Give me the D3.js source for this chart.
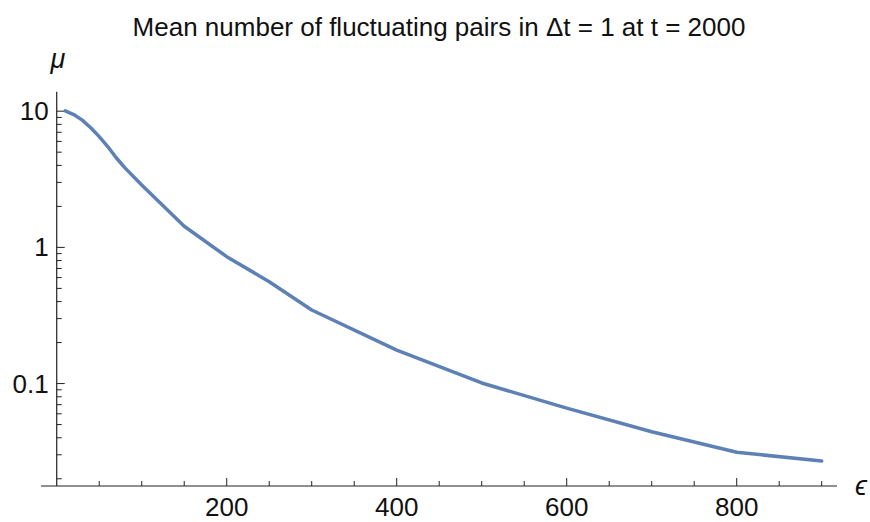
<!DOCTYPE html>
<html>
<head>
<meta charset="utf-8">
<script src="https://cdn.jsdelivr.net/npm/d3@7"></script>
<style>
  html, body { margin: 0; padding: 0; background: #fff; }
  svg { display: block; font-family: "Liberation Sans", Arial, sans-serif; }
</style>
</head>
<body>
<svg id="chart" width="870" height="522"></svg>
<script>
// Mean number of fluctuating pairs versus threshold epsilon
const epsilonValues = [10, 20, 30, 40, 50, 60, 70, 80, 100, 150, 200, 250, 300, 400, 500, 600, 700, 800, 900];
const muValues      = [10.05, 9.45, 8.6, 7.55, 6.5, 5.5, 4.55, 3.85, 2.87, 1.43, 0.855, 0.56, 0.347, 0.176, 0.101, 0.066, 0.0443, 0.0313, 0.027];

const xMajorTicks = [200, 400, 600, 800];
const xMinorTicks = [50, 100, 150, 250, 300, 350, 450, 500, 550, 650, 700, 750, 850, 900];
const yMajorTicks = [0.1, 1, 10];
const yMajorLabels = ["0.1", "1", "10"];
const yMinorTicks = [0.02, 0.03, 0.04, 0.05, 0.06, 0.07, 0.08, 0.09,
                     0.2, 0.3, 0.4, 0.5, 0.6, 0.7, 0.8, 0.9,
                     2, 3, 4, 5, 6, 7, 8, 9];

const titleText = "Mean number of fluctuating pairs in \u0394t = 1 at t = 2000";

const svg = d3.select("#chart");

const x = d3.scaleLinear().domain([-18.5, 918]).range([41, 837]);
const y = d3.scaleLog().domain([0.0177, 13.9]).range([486, 91.7]);

const axisX = x(0), axisY = y.range()[0];
const axisColor = "#222";

// Axis lines
svg.append("line")
  .attr("x1", x.range()[0]).attr("x2", x.range()[1])
  .attr("y1", axisY).attr("y2", axisY)
  .attr("stroke", axisColor).attr("stroke-width", 1.2);
svg.append("line")
  .attr("x1", axisX).attr("x2", axisX)
  .attr("y1", y.range()[0]).attr("y2", y.range()[1])
  .attr("stroke", axisColor).attr("stroke-width", 1.2);

// X ticks (drawn inward, above the axis)
svg.append("g").selectAll("line").data(xMajorTicks).join("line")
  .attr("x1", d => x(d)).attr("x2", d => x(d))
  .attr("y1", axisY).attr("y2", axisY - 8)
  .attr("stroke", axisColor).attr("stroke-width", 1);
svg.append("g").selectAll("line").data(xMinorTicks).join("line")
  .attr("x1", d => x(d)).attr("x2", d => x(d))
  .attr("y1", axisY).attr("y2", axisY - 5)
  .attr("stroke", axisColor).attr("stroke-width", 1);
svg.append("g").selectAll("text").data(xMajorTicks).join("text")
  .attr("x", d => x(d)).attr("y", 516)
  .attr("text-anchor", "middle")
  .attr("font-size", 26).attr("fill", "#111")
  .text(d => d);

// Y ticks (drawn inward, right of the axis)
svg.append("g").selectAll("line").data(yMajorTicks).join("line")
  .attr("x1", axisX).attr("x2", axisX + 8)
  .attr("y1", d => y(d)).attr("y2", d => y(d))
  .attr("stroke", axisColor).attr("stroke-width", 1);
svg.append("g").selectAll("line").data(yMinorTicks).join("line")
  .attr("x1", axisX).attr("x2", axisX + 5)
  .attr("y1", d => y(d)).attr("y2", d => y(d))
  .attr("stroke", axisColor).attr("stroke-width", 1);
svg.append("g").selectAll("text").data(yMajorTicks).join("text")
  .attr("x", axisX - 8).attr("y", d => y(d))
  .attr("dy", "0.35em")
  .attr("text-anchor", "end")
  .attr("font-size", 26).attr("fill", "#111")
  .text((d, i) => yMajorLabels[i]);

// Data curve
const line = d3.line()
  .x((d, i) => x(epsilonValues[i]))
  .y(d => y(d));
svg.append("path")
  .datum(muValues)
  .attr("d", line)
  .attr("fill", "none")
  .attr("stroke", "#5E81B5")
  .attr("stroke-width", 3.5)
  .attr("stroke-linejoin", "round")
  .attr("stroke-linecap", "round");

// Axis labels
svg.append("text")
  .attr("x", 58).attr("y", 68)
  .attr("text-anchor", "middle")
  .attr("font-size", 27).attr("font-style", "italic").attr("fill", "#111")
  .text("\u03BC");
svg.append("text")
  .attr("x", 855).attr("y", 495)
  .attr("font-size", 27).attr("font-style", "italic").attr("fill", "#111")
  .text("\u03F5");

// Title
svg.append("text")
  .attr("x", 439).attr("y", 36)
  .attr("text-anchor", "middle")
  .attr("font-size", 26).attr("fill", "#111")
  .text(titleText);
</script>
</body>
</html>
